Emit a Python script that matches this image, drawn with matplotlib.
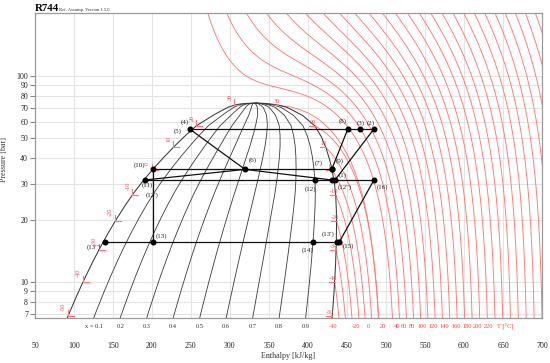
import numpy as np
import matplotlib
matplotlib.use("Agg")
import matplotlib.pyplot as plt

plt.rcParams['font.family'] = ['Liberation Serif', 'DejaVu Serif']

# ---------------- data ----------------
# saturation table of R744 (T [degC], p [bar], h' and h'' [kJ/kg])
sat_T  = [-52, -50, -45, -40, -35, -30, -25, -20, -15, -10, -5, 0, 5, 10, 15, 20, 25, 28, 29, 30, 30.5, 30.8, 30.95, 30.98]
sat_p  = [6.27, 6.823, 8.319, 10.045, 12.021, 14.278, 16.827, 19.696, 22.908, 26.487, 30.46, 34.851, 39.69, 45.022,
          50.87, 57.291, 64.342, 68.918, 70.5, 72.137, 72.96, 73.46, 73.72, 73.77]
sat_hl = [88.4, 92.2, 101.9, 111.7, 121.6, 131.7, 142.0, 152.6, 163.5, 174.8, 186.9, 200.0, 213.4, 227.3,
          241.6, 256.8, 278.0, 292.5, 297.5, 305.5, 312.0, 318.5, 325.0, 333.5]
sat_hv = [430.3, 431.0, 432.8, 434.2, 435.3, 436.0, 436.5, 436.6, 436.3, 435.5, 433.8, 430.9, 427.4, 422.9,
          416.9, 408.8, 393.0, 378.0, 372.5, 362.0, 354.0, 347.0, 341.0, 333.5]

qualities = [0.1, 0.2, 0.3, 0.4, 0.5, 0.6, 0.7, 0.8, 0.9]
quality_labels = ['x = 0.1', '0.2', '0.3', '0.4', '0.5', '0.6', '0.7', '0.8', '0.9']

dome_label_T = [-50, -40, -30, -20, -10, 0, 10, 20, 30]
iso_T_sub = [-50, -40, -30, -20, -10, 0, 10, 20, 30]
iso_T_super = list(range(40, 330, 10))

t_labels = ['-40', '-20', '0', '20', '40', '60', '80', '100', '120', '140', '160', '180', '200', '220', 'T [°C]']
t_label_pos = [432.4, 461.2, 477.3, 495.8, 513.7, 523.5, 533.0, 545.8, 559.9, 574.4, 589.4, 603.5, 617.0, 631.2, 652.6]

h_ticks = [50, 100, 150, 200, 250, 300, 350, 400, 450, 500, 550, 600, 650, 700]
p_ticks = [7, 8, 9, 10, 20, 30, 40, 50, 60, 70, 80, 90, 100]

# cycle state points: name, h [kJ/kg], p [bar]
pt_names = ['(1)', '(2)', '(3)', '(4)', '(5)', '(6)', '(7)', '(8)', '(9)', '(10)', '(11)', "(12')",
            '(12)', "(12'')", '(13)', "(13'')", '(14)', "(13')", '(15)', '(16)']
pt_h = [434.6, 484.2, 467.1, 248.7, 248.7, 319.2, 430.4, 450.9, 430.4, 200.9, 191.0, 200.9,
        409.0, 430.4, 200.9, 139.7, 406.4, 436.8, 440.1, 484.6]
pt_p = [31.27, 55.1, 55.1, 55.1, 55.1, 35.2, 35.2, 55.1, 35.2, 35.2, 31.27, 26.4,
        31.27, 31.27, 15.64, 15.64, 15.64, 15.64, 15.64, 31.27]
pt_dot = [True, True, True, True, False, True, True, True, True, True, True, False,
          True, True, True, True, True, True, True, True]
# label offsets in pixels (x right, y down)
pt_off = [(8, -5), (-2.7, -6.6), (0, -6.6), (-5, -7), (-12, 2), (7.5, -9), (-12.7, -6), (-4.7, -7.8),
          (8.3, -8), (-13.4, -4), (2.5, 5.5), (-1, 0), (-4.3, 9.3), (13.3, 7.5), (8.3, -5.5),
          (-11.7, 4.7), (-5.5, 7.8), (-8.2, -8.2), (8.7, 4.5), (9, 7)]

cycle_paths = [['(4)', '(2)'], ['(4)', '(6)'], ['(10)', '(7)'], ['(11)', '(6)', "(12'')"],
               ['(11)', '(16)'], ['(10)', '(13)'], ["(13'')", '(15)'], ['(8)', '(9)'],
               ['(2)', '(1)'], ['(16)', '(15)']]

# ---------------- Peng-Robinson model of CO2 (for isotherms) ----------------
R = 8.314462618
M = 0.0440098
Tc_K = 304.1282
Pc_Pa = 7.3773e6
omega = 0.22394
kappa = 0.37464 + 1.54226 * omega - 0.26992 * omega ** 2
ac = 0.45724 * R ** 2 * Tc_K ** 2 / Pc_Pa
bb = 0.07780 * R * Tc_K / Pc_Pa
cp_a, cp_b, cp_c, cp_d = 22.26, 5.981e-2, -3.501e-5, 7.469e-9
S2 = np.sqrt(2.0)


def h_mol(T, P):
    sq = np.sqrt(T / Tc_K)
    f = 1 + kappa * (1 - sq)
    a = ac * f * f
    dadT = -ac * kappa * f / np.sqrt(T * Tc_K)
    hig = cp_a * T + cp_b * T ** 2 / 2 + cp_c * T ** 3 / 3 + cp_d * T ** 4 / 4
    out = []
    for Pi in np.atleast_1d(P):
        A = a * Pi / (R * T) ** 2
        B = bb * Pi / (R * T)
        r = np.roots([1, -(1 - B), A - 3 * B ** 2 - 2 * B, -(A * B - B ** 2 - B ** 3)])
        r = r[np.abs(r.imag) < 1e-8].real
        r = r[r > B]
        Z = r.max()
        hdep = R * T * (Z - 1) + (T * dadT - a) / (2 * S2 * bb) * np.log((Z + (1 + S2) * B) / (Z + (1 - S2) * B))
        out.append(hig + hdep)
    return np.array(out) / M / 1000.0


C0 = 430.9 - h_mol(273.15, 34.851e5)[0]

# ---------------- figure ----------------
W, H = 550, 363
fig = plt.figure(figsize=(W / 100, H / 100), dpi=100)
ax = fig.add_axes([35 / W, (H - 318) / H, 507 / W, 305 / H])
ax.set_xlim(50, 700)
ax.set_yscale('log')
ax.set_ylim(6.69, 202)

for v in h_ticks[1:-1]:
    ax.axvline(v, color='#e4e4e4', lw=0.8, zorder=0)
for v in p_ticks:
    ax.axhline(v, color='#e4e4e4', lw=0.8, zorder=0)

p_lo, p_hi = 6.69, 202.0
red = '#ff7878'
iso_lw = 0.65

# isotherms (vapour side for subcritical, full for supercritical)
for T in iso_T_sub:
    ps = float(np.exp(np.interp(T, sat_T, np.log(sat_p))))
    hv = float(np.interp(T, sat_T, sat_hv))
    if ps <= p_lo:
        continue
    pp = np.geomspace(p_lo * 0.98, ps * 0.999, 120)
    hh = h_mol(T + 273.15, pp * 1e5) + C0
    hh = hh + (hv - hh[-1])
    ax.plot(hh, pp, color=red, lw=iso_lw, zorder=2)
for T in iso_T_super:
    pp = np.geomspace(p_lo * 0.98, p_hi * 1.02, 260)
    hh = h_mol(T + 273.15, pp * 1e5) + C0
    ax.plot(hh, pp, color=red, lw=iso_lw, zorder=2)

# saturation dome and quality lines
Tf = np.linspace(sat_T[0], sat_T[-1], 700)
pf = np.exp(np.interp(Tf, sat_T, np.log(sat_p)))
hlf = np.interp(Tf, sat_T, sat_hl)
hvf = np.interp(Tf, sat_T, sat_hv)
dome_col = '#3a3a3a'
ax.plot(np.r_[hlf, hvf[::-1]], np.r_[pf, pf[::-1]], color=dome_col, lw=0.75, zorder=3)
for q in qualities:
    ax.plot(hlf + q * (hvf - hlf), pf, color=dome_col, lw=0.6, zorder=3)

# quality labels under the plot
hl_b = float(np.interp(np.log(p_lo), np.log(sat_p), sat_hl))
hv_b = float(np.interp(np.log(p_lo), np.log(sat_p), sat_hv))
for q, lab in zip(qualities, quality_labels):
    ax.annotate(lab, xy=(hl_b + q * (hv_b - hl_b), 0), xycoords=('data', 'axes fraction'),
                xytext=(0, -9), textcoords='offset pixels', ha='center', va='center',
                fontsize=4.6, color='#333333', annotation_clip=False)

# isotherm labels under the plot
for lab, hpos in zip(t_labels, t_label_pos):
    ax.annotate(lab, xy=(hpos, 0), xycoords=('data', 'axes fraction'),
                xytext=(0, -9), textcoords='offset pixels', ha='center', va='center',
                fontsize=4.6, color='#ff4040', annotation_clip=False)

# isotherm stubs + labels on the saturation lines
lab_red = '#ff4a4a'
dh = 6 / 0.78
for T in dome_label_T:
    ps = float(np.exp(np.interp(T, sat_T, np.log(sat_p))))
    hl = float(np.interp(T, sat_T, sat_hl))
    hv = float(np.interp(T, sat_T, sat_hv))
    fac = 10 ** (6 / 206)
    ax.plot([hl, hl, hl + dh], [ps * fac, ps, ps], color=red, lw=0.8, zorder=4)
    ax.plot([hv - dh, hv], [ps, ps], color=red, lw=0.8, zorder=4)
    ax.annotate(str(T), xy=(hl, ps), xytext=(-4.5, 5), textcoords='offset pixels',
                rotation=90, ha='center', va='bottom', fontsize=4.5, color=lab_red)
    ax.annotate(str(T), xy=(hv, ps), xytext=(-2, 1), textcoords='offset pixels',
                ha='center', va='bottom', fontsize=4.5, color=lab_red)

# cycle
idx = {n: i for i, n in enumerate(pt_names)}
for path in cycle_paths:
    ax.plot([pt_h[idx[n]] for n in path], [pt_p[idx[n]] for n in path], color='#111111', lw=0.9, zorder=5)
for n, h, p, d, off in zip(pt_names, pt_h, pt_p, pt_dot, pt_off):
    if d:
        ax.plot(h, p, 'o', color='black', ms=3.3, zorder=6)
    ax.annotate(n, xy=(h, p), xytext=(off[0], -off[1]), textcoords='offset pixels',
                ha='center', va='center', fontsize=5, color='#222222', zorder=7)

# axes styling
for s in ax.spines.values():
    s.set_color('#9a9a9a')
    s.set_linewidth(0.9)
ax.set_xticks(h_ticks)
ax.set_xticklabels([str(v) for v in h_ticks])
ax.tick_params(axis='x', length=0, pad=17, labelsize=5.7, labelcolor='#222222')
ax.minorticks_off()
ax.set_yticks(p_ticks)
ax.set_yticklabels([str(v) for v in p_ticks])
ax.tick_params(axis='y', which='both', length=3.5, width=0.8, color='#888888', pad=1.5,
               labelsize=5.7, labelcolor='#222222')
ax.yaxis.set_minor_locator(matplotlib.ticker.NullLocator())

ax.set_xlabel('Enthalpy [kJ/kg]', fontsize=5.8, color='#333333')
ax.xaxis.set_label_coords(0.5, -0.112)
ax.set_ylabel('Pressure [bar]', fontsize=5.8, color='#333333')
ax.yaxis.set_label_coords(-0.053, 0.52)

fig.text(35 / W, 1 - 8.5 / H, 'R744', fontsize=7.8, fontweight='bold', va='center', ha='left')
fig.text(59 / W, 1 - 10 / H, 'Ref. Assump. Version 1.5.0', fontsize=3.3, va='center', ha='left', color='#333333')

fig.savefig('out.png', dpi=100)
